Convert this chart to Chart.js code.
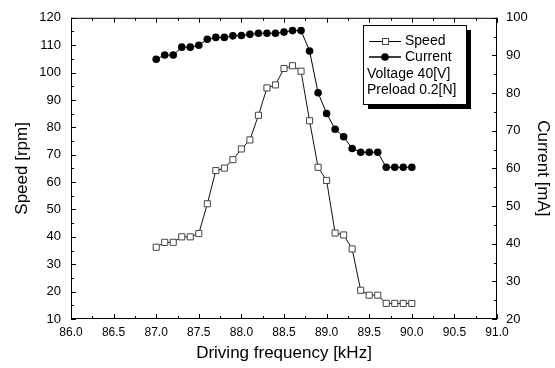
<!DOCTYPE html>
<html>
<head>
<meta charset="utf-8">
<script src="https://cdn.jsdelivr.net/npm/chart.js@4.4.1/dist/chart.umd.min.js"></script>
<style>
  html, body { margin: 0; padding: 0; background: #fff; }
  #wrap { width: 555px; height: 368px; }
</style>
</head>
<body>
<div id="wrap"><canvas id="chart" width="555" height="368"></canvas></div>
<script>
// frecuencias (kHz)
const freqs = [87.0, 87.1, 87.2, 87.3, 87.4, 87.5, 87.6, 87.7, 87.8, 87.9,
               88.0, 88.1, 88.2, 88.3, 88.4, 88.5, 88.6, 88.7, 88.8, 88.9,
               89.0, 89.1, 89.2, 89.3, 89.4, 89.5, 89.6, 89.7, 89.8, 89.9, 90.0];
// velocidad [rpm]
const speed = [36.2, 38.0, 38.0, 40.0, 40.0, 41.2, 52.1, 64.2, 65.1, 68.2,
               72.1, 75.4, 84.4, 94.4, 95.5, 101.5, 102.5, 100.5, 82.4, 65.4,
               60.6, 41.4, 40.7, 35.6, 20.5, 18.7, 18.7, 15.7, 15.7, 15.7, 15.7];
// corriente [mA]
const current = [89.0, 90.1, 90.1, 92.2, 92.2, 92.7, 94.3, 94.8, 94.8, 95.2,
                 95.3, 95.6, 95.9, 95.9, 95.9, 96.2, 96.6, 96.6, 91.2, 80.1,
                 74.6, 70.4, 68.4, 65.3, 64.3, 64.3, 64.3, 60.3, 60.3, 60.3, 60.3];

const legendLines = ['Voltage 40[V]', 'Preload 0.2[N]'];
const FONT = 'Liberation Sans, Arial, sans-serif';

// ticks hacia adentro + marco + leyenda
const framePlugin = {
    id: 'frame',
    afterDraw(chart) {
        const ctx = chart.ctx;
        const a = chart.chartArea;
        const x = chart.scales.x, y = chart.scales.y, y1 = chart.scales.y1;
        ctx.save();
        ctx.strokeStyle = '#000';
        ctx.lineWidth = 1;
        ctx.strokeRect(a.left + 0.5, a.top + 0.5, a.right - a.left - 1, a.bottom - a.top - 1);

        ctx.beginPath();
        for (let i = 0; i <= 20; i++) {
            const px = Math.round(x.getPixelForValue(86 + i * 0.25)) + 0.5;
            const len = i % 2 === 0 ? 5 : 3;
            ctx.moveTo(px, a.bottom); ctx.lineTo(px, a.bottom - len);
            ctx.moveTo(px, a.top); ctx.lineTo(px, a.top + len);
        }
        for (let i = 0; i <= 22; i++) {
            const py = Math.round(y.getPixelForValue(10 + i * 5)) + 0.5;
            const len = i % 2 === 0 ? 5 : 3;
            ctx.moveTo(a.left, py); ctx.lineTo(a.left + len, py);
        }
        for (let i = 0; i <= 16; i++) {
            const py = Math.round(y1.getPixelForValue(20 + i * 5)) + 0.5;
            const len = i % 2 === 0 ? 5 : 3;
            ctx.moveTo(a.right, py); ctx.lineTo(a.right - len, py);
        }
        ctx.stroke();

        // leyenda
        const bx = 363, by = 25, bw = 103, bh = 79;
        ctx.fillStyle = '#000';
        ctx.fillRect(bx + 5, by + 5, bw, bh);
        ctx.fillStyle = '#fff';
        ctx.fillRect(bx, by, bw, bh);
        ctx.strokeRect(bx + 0.5, by + 0.5, bw, bh);

        ctx.font = '14px ' + FONT;
        ctx.textBaseline = 'middle';
        ctx.fillStyle = '#000';

        let ly = 41;
        ctx.beginPath();
        ctx.moveTo(369, ly + 0.5); ctx.lineTo(401, ly + 0.5);
        ctx.stroke();
        ctx.fillStyle = '#fff';
        ctx.fillRect(382, ly - 3, 6, 6);
        ctx.strokeStyle = '#444';
        ctx.strokeRect(382.5, ly - 2.5, 6, 6);
        ctx.fillStyle = '#000';
        ctx.fillText('Speed', 405, ly);

        ly = 57;
        ctx.strokeStyle = '#000';
        ctx.lineWidth = 1.5;
        ctx.beginPath();
        ctx.moveTo(369, ly); ctx.lineTo(401, ly);
        ctx.stroke();
        ctx.beginPath();
        ctx.arc(385, ly, 3.8, 0, Math.PI * 2);
        ctx.fill();
        ctx.fillText('Current', 405, ly);

        ctx.fillText(legendLines[0], 367, 74);
        ctx.fillText(legendLines[1], 367, 90);
        ctx.restore();
    }
};

const ctx = document.getElementById('chart').getContext('2d');

new Chart(ctx, {
    type: 'line',
    data: {
        datasets: [{
            label: 'Speed',
            data: freqs.map((f, i) => ({ x: f, y: speed[i] })),
            yAxisID: 'y',
            borderColor: '#111',
            borderWidth: 1,
            pointStyle: 'rect',
            pointRadius: 4.3,
            pointBackgroundColor: '#fff',
            pointBorderColor: '#444',
            pointBorderWidth: 1,
            tension: 0
        }, {
            label: 'Current',
            data: freqs.map((f, i) => ({ x: f, y: current[i] })),
            yAxisID: 'y1',
            borderColor: '#000',
            borderWidth: 1,
            pointStyle: 'circle',
            pointRadius: 3.8,
            pointBackgroundColor: '#000',
            pointBorderColor: '#000',
            pointBorderWidth: 0,
            tension: 0
        }]
    },
    options: {
        responsive: false,
        animation: false,
        layout: { padding: { top: 15, left: 0, right: 0, bottom: 0 } },
        plugins: {
            legend: { display: false },
            tooltip: { enabled: false }
        },
        scales: {
            x: {
                type: 'linear',
                min: 86, max: 91,
                afterFit: s => { s.height = 49; },
                grid: { display: false, drawTicks: false },
                border: { display: false },
                ticks: {
                    stepSize: 0.5,
                    padding: 6,
                    color: '#000',
                    font: { family: FONT, size: 12 },
                    maxRotation: 0,
                    callback: v => v.toFixed(1)
                },
                title: {
                    display: true,
                    text: 'Driving frequency [kHz]',
                    color: '#000',
                    font: { family: FONT, size: 17 },
                    padding: { top: 2, bottom: 4 }
                }
            },
            y: {
                position: 'left',
                min: 10, max: 120,
                afterFit: s => { s.width = 71; },
                grid: { display: false, drawTicks: false },
                border: { display: false },
                ticks: {
                    stepSize: 10,
                    padding: 10,
                    color: '#000',
                    font: { family: FONT, size: 13 }
                },
                title: {
                    display: true,
                    text: 'Speed [rpm]',
                    color: '#000',
                    font: { family: FONT, size: 17 },
                    padding: { top: 12, bottom: 0 }
                }
            },
            y1: {
                position: 'right',
                min: 20, max: 100,
                afterFit: s => { s.width = 58; },
                grid: { display: false, drawTicks: false },
                border: { display: false },
                ticks: {
                    stepSize: 10,
                    padding: 9,
                    color: '#000',
                    font: { family: FONT, size: 13 }
                },
                title: {
                    display: true,
                    text: 'Current [mA]',
                    color: '#000',
                    font: { family: FONT, size: 17 },
                    padding: { top: 2, bottom: 0 }
                }
            }
        }
    },
    plugins: [framePlugin]
});
</script>
</body>
</html>
